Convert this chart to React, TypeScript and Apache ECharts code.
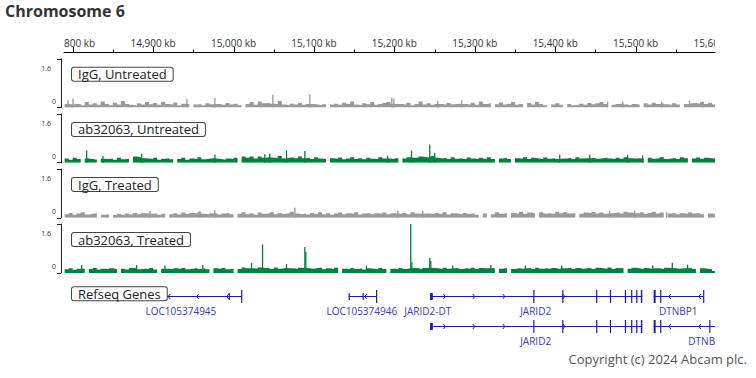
import React, { useEffect, useRef } from "react";
import * as echarts from "echarts";

// ---------- axis ----------
const TITLE = "Chromosome 6";
const X_MIN = 14789.2; // kb at left edge of the view
const X_MAX = 15598.7; // kb at right edge of the view
const AXIS_MAJOR_KB = [14800, 14900, 15000, 15100, 15200, 15300, 15400, 15500, 15600];
const AXIS_LABELS = ["14,800 kb", "14,900 kb", "15,000 kb", "15,100 kb", "15,200 kb", "15,300 kb", "15,400 kb", "15,500 kb", "15,600 kb"];
const AXIS_MINOR_KB = [14850, 14950, 15050, 15150, 15250, 15350, 15450, 15550];

// ---------- signal tracks: background level in 5 kb bins starting at BIN_START ----------
const BIN_START = 14790;
const BIN_SIZE = 5;
const Y_MAX = 1.6;
const TRACK_NAMES = ["IgG, Untreated", "ab32063, Untreated", "IgG, Treated", "ab32063, Treated"];
const TRACK_COLORS = ["#9a9a9a", "#00813f", "#9a9a9a", "#00813f"];

const iggUntreated = [
  0.12, 0.10, 0.12, 0.12, 0.08, 0.18, 0.10, 0.14, 0.09, 0.20,
  0.12, 0.08, 0.16, 0.10, 0.22, 0.12, 0.09, 0.07, 0.14, 0.10,
  0.18, 0.11, 0.15, 0.09, 0.19, 0.12, 0.10, 0.17, 0.08, 0.13,
  0.12, 0.00, 0.10, 0.12, 0.08, 0.14, 0.11, 0.12, 0.12, 0.09,
  0.15, 0.10, 0.13, 0.08, 0.00, 0.12, 0.18, 0.09, 0.20, 0.14,
  0.16, 0.13, 0.12, 0.22, 0.10, 0.08, 0.13, 0.10, 0.15, 0.09,
  0.12, 0.12, 0.10, 0.08, 0.11, 0.00, 0.10, 0.13, 0.09, 0.16,
  0.12, 0.20, 0.10, 0.08, 0.14, 0.11, 0.18, 0.09, 0.12, 0.15,
  0.18, 0.13, 0.12, 0.12, 0.10, 0.16, 0.08, 0.12, 0.20, 0.10,
  0.14, 0.09, 0.12, 0.12, 0.10, 0.15, 0.11, 0.13, 0.12, 0.12,
  0.10, 0.16, 0.09, 0.20, 0.12, 0.14, 0.00, 0.11, 0.17, 0.10,
  0.13, 0.18, 0.09, 0.12, 0.00, 0.15, 0.10, 0.19, 0.12, 0.08,
  0.00, 0.10, 0.14, 0.09, 0.00, 0.12, 0.08, 0.10, 0.13, 0.09,
  0.15, 0.11, 0.14, 0.18, 0.12, 0.00, 0.09, 0.12, 0.14, 0.10,
  0.08, 0.12, 0.10, 0.00, 0.14, 0.10, 0.16, 0.12, 0.14, 0.11,
  0.09, 0.14, 0.10, 0.00, 0.12, 0.14, 0.15, 0.13, 0.18, 0.12,
  0.16, 0.10,
];

const abUntreated = [
  0.14, 0.10, 0.16, 0.12, 0.00, 0.14, 0.12, 0.10, 0.00, 0.13,
  0.12, 0.14, 0.10, 0.16, 0.11, 0.13, 0.00, 0.20, 0.18, 0.15,
  0.14, 0.12, 0.16, 0.10, 0.13, 0.15, 0.11, 0.00, 0.12, 0.16,
  0.10, 0.14, 0.12, 0.18, 0.11, 0.13, 0.15, 0.14, 0.12, 0.10,
  0.14, 0.12, 0.16, 0.00, 0.20, 0.16, 0.20, 0.14, 0.20, 0.16,
  0.18, 0.16, 0.16, 0.22, 0.14, 0.16, 0.18, 0.15, 0.20, 0.15,
  0.16, 0.12, 0.18, 0.14, 0.12, 0.00, 0.15, 0.13, 0.17, 0.11,
  0.14, 0.18, 0.12, 0.15, 0.11, 0.16, 0.13, 0.12, 0.18, 0.14,
  0.14, 0.12, 0.15, 0.00, 0.14, 0.18, 0.16, 0.16, 0.20, 0.18,
  0.18, 0.22, 0.16, 0.14, 0.16, 0.12, 0.18, 0.13, 0.15, 0.12,
  0.17, 0.14, 0.12, 0.16, 0.13, 0.18, 0.12, 0.00, 0.14, 0.16,
  0.12, 0.00, 0.15, 0.13, 0.18, 0.12, 0.16, 0.14, 0.12, 0.17,
  0.13, 0.15, 0.12, 0.14, 0.14, 0.16, 0.12, 0.18, 0.14, 0.15,
  0.15, 0.16, 0.13, 0.15, 0.17, 0.14, 0.12, 0.16, 0.13, 0.18,
  0.15, 0.14, 0.15, 0.14, 0.00, 0.16, 0.13, 0.15, 0.18, 0.12,
  0.14, 0.16, 0.12, 0.18, 0.15, 0.00, 0.14, 0.17, 0.13, 0.16,
  0.15, 0.13,
];

const iggTreated = [
  0.12, 0.16, 0.10, 0.14, 0.18, 0.11, 0.13, 0.15, 0.00, 0.10,
  0.12, 0.00, 0.09, 0.13, 0.10, 0.14, 0.11, 0.16, 0.12, 0.15,
  0.14, 0.13, 0.14, 0.10, 0.13, 0.00, 0.12, 0.15, 0.11, 0.17,
  0.13, 0.16, 0.14, 0.18, 0.13, 0.12, 0.15, 0.14, 0.11, 0.14,
  0.16, 0.12, 0.00, 0.13, 0.18, 0.12, 0.15, 0.10, 0.17, 0.13,
  0.14, 0.18, 0.12, 0.16, 0.13, 0.15, 0.20, 0.14, 0.12, 0.14,
  0.11, 0.16, 0.13, 0.18, 0.12, 0.15, 0.10, 0.14, 0.17, 0.12,
  0.15, 0.13, 0.18, 0.11, 0.14, 0.16, 0.12, 0.15, 0.13, 0.17,
  0.12, 0.15, 0.14, 0.13, 0.16, 0.12, 0.18, 0.14, 0.13, 0.14,
  0.14, 0.12, 0.16, 0.13, 0.18, 0.11, 0.15, 0.14, 0.12, 0.16,
  0.13, 0.15, 0.10, 0.00, 0.14, 0.00, 0.12, 0.18, 0.13, 0.15,
  0.00, 0.16, 0.14, 0.20, 0.13, 0.17, 0.15, 0.00, 0.18, 0.14,
  0.16, 0.13, 0.20, 0.15, 0.18, 0.14, 0.16, 0.00, 0.13, 0.17,
  0.15, 0.19, 0.14, 0.17, 0.13, 0.15, 0.16, 0.18, 0.14, 0.20,
  0.17, 0.15, 0.15, 0.18, 0.13, 0.16, 0.20, 0.14, 0.17, 0.00,
  0.14, 0.16, 0.12, 0.15, 0.13, 0.18, 0.14, 0.16, 0.12, 0.00,
  0.14, 0.12,
];

const abTreated = [
  0.12, 0.15, 0.10, 0.14, 0.14, 0.00, 0.13, 0.16, 0.11, 0.14,
  0.12, 0.15, 0.13, 0.00, 0.14, 0.11, 0.16, 0.15, 0.12, 0.14,
  0.13, 0.16, 0.11, 0.00, 0.14, 0.14, 0.12, 0.15, 0.13, 0.16,
  0.12, 0.14, 0.16, 0.13, 0.15, 0.12, 0.00, 0.15, 0.13, 0.16,
  0.12, 0.14, 0.00, 0.13, 0.18, 0.15, 0.15, 0.14, 0.18, 0.16,
  0.16, 0.13, 0.18, 0.14, 0.16, 0.15, 0.15, 0.13, 0.17, 0.16,
  0.15, 0.14, 0.16, 0.18, 0.12, 0.15, 0.13, 0.17, 0.00, 0.14,
  0.12, 0.16, 0.13, 0.15, 0.11, 0.15, 0.14, 0.12, 0.16, 0.13,
  0.00, 0.14, 0.12, 0.16, 0.13, 0.15, 0.16, 0.15, 0.13, 0.16,
  0.17, 0.16, 0.15, 0.13, 0.17, 0.14, 0.15, 0.16, 0.13, 0.15,
  0.14, 0.17, 0.13, 0.16, 0.15, 0.16, 0.15, 0.00, 0.14, 0.16,
  0.00, 0.13, 0.15, 0.14, 0.15, 0.16, 0.13, 0.17, 0.14, 0.15,
  0.13, 0.16, 0.14, 0.15, 0.15, 0.17, 0.13, 0.16, 0.14, 0.15,
  0.16, 0.13, 0.17, 0.15, 0.14, 0.18, 0.13, 0.16, 0.15, 0.00,
  0.14, 0.17, 0.15, 0.13, 0.16, 0.14, 0.15, 0.15, 0.13, 0.17,
  0.16, 0.15, 0.14, 0.15, 0.15, 0.16, 0.13, 0.00, 0.15, 0.14,
  0.12, 0.06,
];

// narrow peaks (about 1 kb wide) on top of the background
const iggUntreatedPeakKb = [14794.2, 14800.4, 14942.0, 14976.8, 15048.9, 15094.9, 15196.8, 15199.3, 15254.0, 15283.8, 15465.2, 15483.9, 15532.3, 15567.1, 15583.3];
const iggUntreatedPeakVal = [0.24, 0.30, 0.28, 0.32, 0.42, 0.43, 0.33, 0.30, 0.22, 0.24, 0.20, 0.20, 0.20, 0.22, 0.20];
const abUntreatedPeakKb = [14817.4, 14837.7, 14885.7, 14976.8, 15038.9, 15045.1, 15065.9, 15088.7, 15191.8, 15221.3, 15244.0, 15250.2, 15405.6, 15442.9, 15490.1, 15508.7];
const abUntreatedPeakVal = [0.40, 0.22, 0.30, 0.27, 0.28, 0.30, 0.40, 0.38, 0.23, 0.40, 0.60, 0.33, 0.26, 0.26, 0.26, 0.24];
const iggTreatedPeakKb = [14896.1, 14958.2, 14976.8, 15076.3, 15204.3, 15235.3, 15467.7, 15498.8, 15538.6];
const iggTreatedPeakVal = [0.22, 0.22, 0.25, 0.33, 0.24, 0.23, 0.23, 0.24, 0.20];
const abTreatedPeakKb = [14811.2, 14879.5, 14914.7, 14961.9, 15022.4, 15036.1, 15065.9, 15088.7, 15089.9, 15165.3, 15220.4, 15221.7, 15244.0, 15245.3, 15272.6, 15319.9, 15362.9, 15408.1, 15521.2, 15545.6, 15564.6];
const abTreatedPeakVal = [0.26, 0.26, 0.24, 0.26, 0.33, 0.93, 0.29, 0.85, 0.69, 0.24, 1.60, 0.35, 0.49, 0.40, 0.24, 0.26, 0.24, 0.24, 0.24, 0.33, 0.27];

const TRACK_VALUES = [iggUntreated, abUntreated, iggTreated, abTreated];
const TRACK_PEAK_KB = [iggUntreatedPeakKb, abUntreatedPeakKb, iggTreatedPeakKb, abTreatedPeakKb];
const TRACK_PEAK_VAL = [iggUntreatedPeakVal, abUntreatedPeakVal, iggTreatedPeakVal, abTreatedPeakVal];

// ---------- RefSeq genes ----------
const GENE_NAMES = ["LOC105374945", "LOC105374946", "JARID2-DT", "JARID2", "DTNBP1", "JARID2", "DTNBP1"];
const GENE_ROWS = [0, 0, 0, 0, 0, 1, 1];
const GENE_STRANDS = ["-", "-", "+", "+", "-", "+", "-"];
const GENE_STARTS = [14859.0, 15143.1, 15244.4, 15247.8, 15522.4, 15244.4, 15522.4];
const GENE_ENDS = [15010.6, 15178.4, 15247.8, 15508.3, 15585.1, 15508.3, 15660.0];
const GENE_LABEL_KB = [14934.6, 15159.5, 15241.5, 15375.7, 15553.1, 15375.7, 15589.5];

const EXON_GENE = [0, 0, 1, 1, 1, 2, 3, 3, 3, 3, 3, 3, 3, 3, 4, 4, 4, 5, 5, 5, 5, 5, 5, 5, 5, 5, 6, 6, 6];
const EXON_START = [14994.0, 15009.4, 15143.1, 15160.5, 15177.2, 15244.4, 15372.7, 15408.7, 15450.9, 15468.0, 15486.6, 15494.4, 15500.7, 15506.5, 15522.4, 15530.5, 15583.9, 15244.4, 15372.7, 15408.7, 15450.9, 15468.0, 15486.6, 15494.4, 15500.7, 15506.5, 15522.4, 15530.5, 15591.5];
const EXON_END = [14995.2, 15010.6, 15144.3, 15161.7, 15178.4, 15247.8, 15373.9, 15409.9, 15452.1, 15469.2, 15487.8, 15495.6, 15501.9, 15508.3, 15524.9, 15531.7, 15585.1, 15247.8, 15373.9, 15409.9, 15452.1, 15469.2, 15487.8, 15495.6, 15501.9, 15508.3, 15524.9, 15531.7, 15592.7];
const EXON_FULL = [0, 1, 0, 0, 1, 0, 1, 1, 1, 1, 1, 1, 1, 1, 1, 1, 1, 0, 1, 1, 1, 1, 1, 1, 1, 1, 1, 1, 1];

const ARROW_GENE = [0, 0, 0, 1, 3, 3, 3, 3, 4, 4, 5, 5, 5, 5, 6, 6];
const ARROW_KB = [14918.7, 14954.1, 14991.4, 15163.2, 15263.5, 15300.0, 15337.3, 15412.0, 15541.4, 15578.7, 15263.5, 15300.0, 15337.3, 15412.0, 15541.4, 15578.7];

const COPYRIGHT = "Copyright (c) 2024 Abcam plc.";

// ---------- layout ----------
const FONT = '"Open Sans", "Noto Sans", sans-serif';
const LEFT = 64;
const RIGHT = 41; // grid right edge at 715
const AXIS_TOP = 30;
const AXIS_H = 22;
const TRACK_TOP0 = 58.8;
const TRACK_STEP = 55.1;
const TRACK_H = 48.8;
const GENE_TOP = 280.7;
const GENE_H = 90;
const GENE_COLOR = "#1c1ca2";
const GENE_LABEL_COLOR = "#3a3ab4";

function buildOption() {
  const grid: any[] = [{ left: LEFT, right: RIGHT, top: AXIS_TOP, height: AXIS_H }];
  TRACK_NAMES.forEach((_, k) =>
    grid.push({ left: LEFT, right: RIGHT, top: TRACK_TOP0 + k * TRACK_STEP, height: TRACK_H })
  );
  grid.push({ left: LEFT, right: RIGHT, top: GENE_TOP, height: GENE_H });

  const xAxis: any[] = grid.map((_, g) => ({
    type: "value",
    gridIndex: g,
    min: X_MIN,
    max: X_MAX,
    show: g === 0,
    axisLine: { show: true, onZero: false, lineStyle: { color: "#000", width: 1 } },
    axisTick: { show: false },
    axisLabel: { show: false },
    splitLine: { show: false },
  }));

  const yAxis: any[] = [{ type: "value", gridIndex: 0, min: 0, max: 1, show: false }];
  TRACK_NAMES.forEach((_, k) =>
    yAxis.push({
      type: "value",
      gridIndex: k + 1,
      min: 0,
      max: Y_MAX,
      interval: Y_MAX,
      offset: 3,
      axisLine: { show: true, lineStyle: { color: "#222", width: 1 } },
      axisTick: { show: true, length: 4, lineStyle: { color: "#222" } },
      axisLabel: { show: false },
      splitLine: { show: false },
    })
  );
  yAxis.push({ type: "value", gridIndex: 5, min: 0, max: 3, inverse: true, show: false });

  const tickData = [
    ...AXIS_MAJOR_KB.map((v, i) => [v, 1, i]),
    ...AXIS_MINOR_KB.map((v) => [v, 0, -1]),
  ];

  const series: any[] = [
    {
      type: "custom",
      xAxisIndex: 0,
      yAxisIndex: 0,
      clip: true,
      data: tickData,
      renderItem: (params: any, api: any) => {
        const v = api.value(0);
        const major = api.value(1) === 1;
        const li = api.value(2);
        const p = api.coord([v, 0]);
        const x = Math.round(p[0]) + 0.5;
        const children: any[] = [
          {
            type: "line",
            shape: { x1: x, y1: p[1], x2: x, y2: p[1] - (major ? 5 : 2.5) },
            style: { stroke: "#000", lineWidth: 1 },
          },
        ];
        if (major) {
          children.push({
            type: "text",
            style: {
              text: AXIS_LABELS[li],
              x: p[0],
              y: p[1] - 9,
              align: "center",
              verticalAlign: "middle",
              font: `10px ${FONT}`,
              fill: "#333",
            },
          });
        }
        return { type: "group", children };
      },
    },
  ];

  TRACK_VALUES.forEach((vals, k) => {
    const data = vals.map((v, i) => [BIN_START + i * BIN_SIZE, v]);
    data.push([BIN_START + vals.length * BIN_SIZE, vals[vals.length - 1]]);
    series.push({
      type: "line",
      name: TRACK_NAMES[k],
      xAxisIndex: k + 1,
      yAxisIndex: k + 1,
      step: "end",
      symbol: "none",
      showSymbol: false,
      clip: true,
      lineStyle: { width: 0 },
      areaStyle: { color: TRACK_COLORS[k], opacity: 1 },
      data,
    });
    series.push({
      type: "bar",
      name: TRACK_NAMES[k] + " peaks",
      xAxisIndex: k + 1,
      yAxisIndex: k + 1,
      barWidth: 1.3,
      clip: true,
      itemStyle: { color: TRACK_COLORS[k] },
      data: TRACK_PEAK_KB[k].map((kb, i) => [kb, TRACK_PEAK_VAL[k][i]]),
    });
  });

  series.push({
    type: "custom",
    xAxisIndex: 5,
    yAxisIndex: 5,
    clip: true,
    data: GENE_NAMES.map((_, i) => [GENE_STARTS[i], GENE_ROWS[i] + 0.5]),
    renderItem: (params: any, api: any) => {
      const g = params.dataIndex;
      const rowY = GENE_ROWS[g] + 0.5;
      const yc = Math.round(api.coord([GENE_STARTS[g], rowY])[1]) + 0.5;
      const X = (kb: number) => api.coord([kb, rowY])[0];
      const children: any[] = [
        {
          type: "line",
          shape: { x1: X(GENE_STARTS[g]), y1: yc, x2: X(GENE_ENDS[g]), y2: yc },
          style: { stroke: GENE_COLOR, lineWidth: 1 },
        },
      ];
      EXON_GENE.forEach((eg, j) => {
        if (eg !== g) return;
        const xa = X(EXON_START[j]);
        const xb = X(EXON_END[j]);
        const hh = EXON_FULL[j] ? 6.5 : 3.5;
        children.push({
          type: "rect",
          shape: { x: xa, y: yc - hh, width: Math.max(1.2, xb - xa), height: 2 * hh },
          style: { fill: GENE_COLOR },
        });
      });
      ARROW_GENE.forEach((ag, j) => {
        if (ag !== g) return;
        const x = X(ARROW_KB[j]);
        const d = GENE_STRANDS[g] === "+" ? -2 : 2;
        children.push({
          type: "polyline",
          shape: { points: [[x + d, yc - 2.5], [x, yc], [x + d, yc + 2.5]] },
          style: { stroke: GENE_COLOR, lineWidth: 1, fill: null },
        });
      });
      children.push({
        type: "text",
        style: {
          text: GENE_NAMES[g],
          x: X(GENE_LABEL_KB[g]),
          y: yc + 14.5,
          align: "center",
          verticalAlign: "middle",
          font: `10px ${FONT}`,
          fill: GENE_LABEL_COLOR,
        },
      });
      return { type: "group", children };
    },
  });

  const graphic: any[] = [
    {
      type: "text",
      left: 5,
      top: 3,
      style: { text: TITLE, font: `bold 16px ${FONT}`, fill: "#333" },
    },
  ];

  const boxStyle = (text: string, x: number, y: number) => ({
    type: "text",
    z: 100,
    style: {
      text,
      x,
      y,
      font: `13px ${FONT}`,
      fill: "#222",
      lineHeight: 13,
      verticalAlign: "top",
      align: "left",
      padding: [0, 6, 0, 6],
      backgroundColor: "#fff",
      borderColor: "#444",
      borderWidth: 1,
      borderRadius: 2,
    },
  });

  TRACK_NAMES.forEach((name, k) => {
    const top = TRACK_TOP0 + k * TRACK_STEP;
    graphic.push(boxStyle(name, 72, top + 9));
    graphic.push({
      type: "text",
      style: {
        text: String(Y_MAX),
        x: 51,
        y: top + 9.5,
        align: "right",
        verticalAlign: "middle",
        font: `7px ${FONT}`,
        fill: "#333",
      },
    });
    graphic.push({
      type: "text",
      style: {
        text: "0",
        x: 56,
        y: top + TRACK_H - 6.5,
        align: "right",
        verticalAlign: "middle",
        font: `7px ${FONT}`,
        fill: "#333",
      },
    });
  });
  graphic.push(boxStyle("Refseq Genes", 72, GENE_TOP + 6.5));
  graphic.push({
    type: "text",
    style: {
      text: COPYRIGHT,
      x: 747,
      y: 359,
      align: "right",
      verticalAlign: "middle",
      font: `13px ${FONT}`,
      fill: "#555",
    },
  });

  return {
    animation: false,
    backgroundColor: "#fff",
    grid,
    xAxis,
    yAxis,
    series,
    graphic,
  };
}

export default function App() {
  const ref = useRef<HTMLDivElement>(null);
  useEffect(() => {
    if (!ref.current) return;
    const chart = echarts.init(ref.current, null, { renderer: "svg" });
    chart.setOption(buildOption() as any);
    return () => chart.dispose();
  }, []);
  return (
    <div
      ref={ref}
      style={{ width: 756, height: 378, position: "absolute", left: 0, top: 0 }}
    />
  );
}
